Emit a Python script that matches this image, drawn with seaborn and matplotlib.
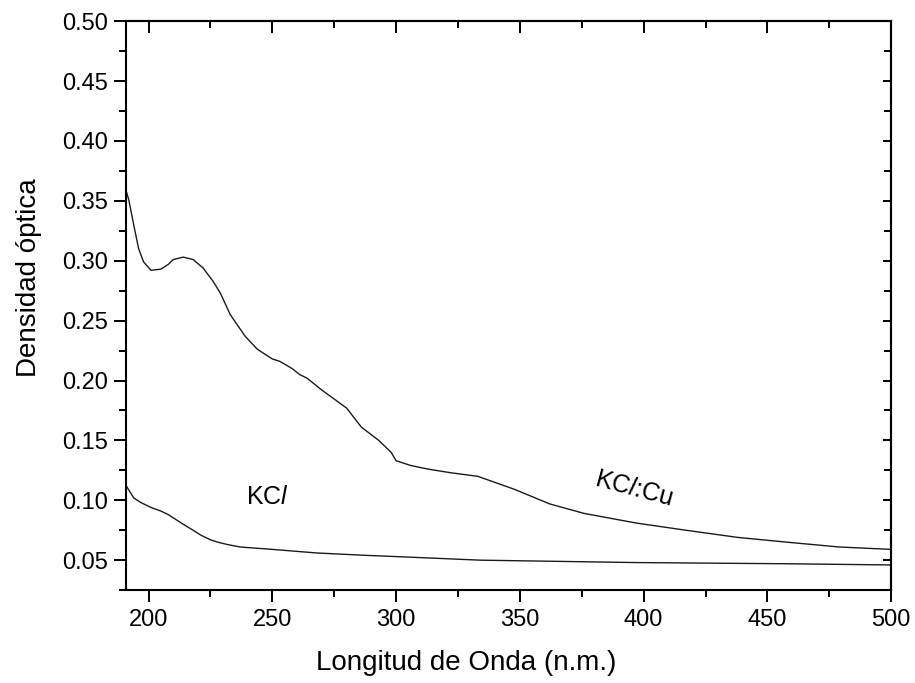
import seaborn as sns
import matplotlib.pyplot as plt
import pandas as pd
from matplotlib.ticker import MultipleLocator

# KCl:Cu spectrum
cu_wl = [191, 192, 194, 196, 198, 201, 205, 208, 210, 214, 218, 222, 226, 229, 233,
         239, 244, 250, 253, 258, 261, 264, 270, 280, 286, 293, 298, 300, 306, 313,
         322, 333, 348, 362, 376, 397, 417, 438, 458, 479, 500]
cu_od = [0.358, 0.351, 0.330, 0.310, 0.299, 0.292, 0.293, 0.297, 0.301, 0.303, 0.301,
         0.294, 0.283, 0.273, 0.255, 0.237, 0.226, 0.218, 0.216, 0.210, 0.205, 0.202,
         0.192, 0.177, 0.161, 0.150, 0.140, 0.133, 0.129, 0.126, 0.123, 0.120, 0.109,
         0.097, 0.089, 0.081, 0.075, 0.069, 0.065, 0.061, 0.059]

# pure KCl spectrum
kcl_wl = [191, 194, 197, 201, 205, 208, 211, 214, 218, 221, 225, 228, 232, 237, 250,
          268, 288, 300, 334, 397, 458, 500]
kcl_od = [0.112, 0.102, 0.098, 0.094, 0.091, 0.088, 0.084, 0.080, 0.075, 0.071, 0.067,
          0.065, 0.063, 0.061, 0.059, 0.056, 0.054, 0.053, 0.050, 0.048, 0.047, 0.046]

df = pd.concat([
    pd.DataFrame({"wl": cu_wl, "od": cu_od, "muestra": "KCl:Cu"}),
    pd.DataFrame({"wl": kcl_wl, "od": kcl_od, "muestra": "KCl"}),
])

sns.set_theme(style="ticks")
plt.rcParams["font.family"] = ["Liberation Sans", "DejaVu Sans"]
plt.rcParams["mathtext.fontset"] = "custom"
plt.rcParams["mathtext.it"] = "Liberation Sans:italic"
plt.rcParams["mathtext.rm"] = "Liberation Sans"
plt.rcParams["text.color"] = "black"
plt.rcParams["axes.labelcolor"] = "black"

fig = plt.figure(figsize=(9.15, 6.83), dpi=100)
ax = fig.add_axes([0.138, 0.136, 0.836, 0.833])

sns.lineplot(data=df, x="wl", y="od", units="muestra", estimator=None,
             color="#1a1a1a", linewidth=1.0, ax=ax, sort=False)

ax.set_xlim(191, 500)
ax.set_ylim(0.025, 0.50)
ax.xaxis.set_major_locator(MultipleLocator(50))
ax.xaxis.set_minor_locator(MultipleLocator(25))
ax.yaxis.set_major_locator(MultipleLocator(0.05))
ax.yaxis.set_minor_locator(MultipleLocator(0.025))
ax.yaxis.set_major_formatter(lambda v, p: f"{v:.2f}")

ax.tick_params(which="major", direction="out", length=8.5, width=1.4, labelsize=17,
               colors="black", pad=5)
ax.tick_params(which="minor", direction="out", length=5, width=1.4, colors="black")
for s in ax.spines.values():
    s.set_linewidth(1.5)
    s.set_color("black")

# top / right: inward ticks, no labels
top = ax.secondary_xaxis("top")
top.xaxis.set_major_locator(MultipleLocator(50))
top.xaxis.set_minor_locator(MultipleLocator(25))
top.tick_params(which="major", direction="in", length=8.5, width=1.4, labeltop=False, colors="black")
top.tick_params(which="minor", direction="in", length=5, width=1.4, colors="black")
right = ax.secondary_yaxis("right")
right.yaxis.set_major_locator(MultipleLocator(0.05))
right.yaxis.set_minor_locator(MultipleLocator(0.025))
right.tick_params(which="major", direction="in", length=6, width=1.4, labelright=False, colors="black")
right.tick_params(which="minor", direction="in", length=5, width=1.4, colors="black")
for a in (top, right):
    for s in a.spines.values():
        s.set_linewidth(1.5)
        s.set_color("black")

ax.set_xlabel("Longitud de Onda (n.m.)", fontsize=20)
ax.xaxis.set_label_coords(0.445, -0.105)
ax.set_ylabel("Densidad óptica", fontsize=20)
ax.yaxis.set_label_coords(-0.11, 0.55)

ax.text(248, 0.103, r"KC$\mathit{l}$", fontsize=18, ha="center", va="center")
ax.text(396, 0.110, r"KC$\mathit{l}$:Cu", fontsize=18, ha="center", va="center", rotation=-15)

fig.savefig("out.png", dpi=100, facecolor="white")
